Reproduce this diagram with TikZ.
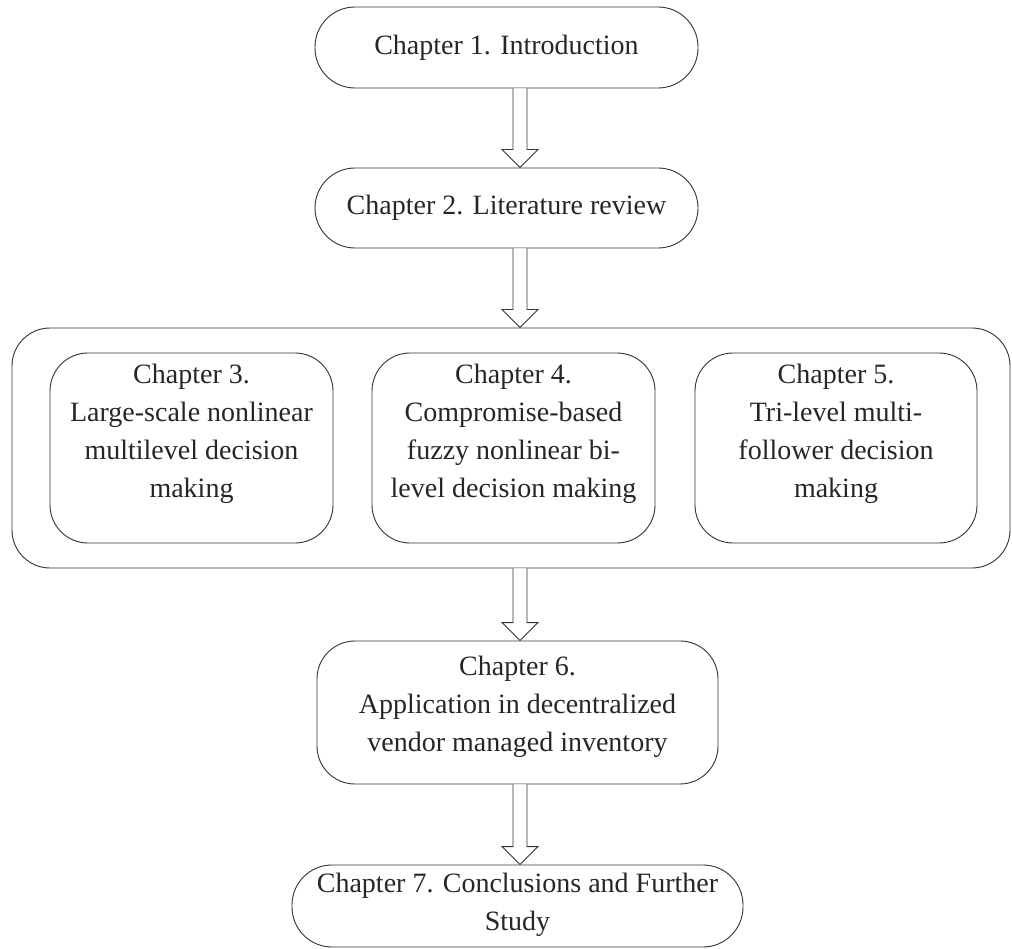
\documentclass[tikz,border=0pt]{standalone}
\usepackage{fontspec}
\setmainfont{Liberation Serif}
\usetikzlibrary{calc}
\tikzset{
  box/.style={draw=black!80, line width=0.9pt, rounded corners=38pt, align=center, inner sep=0pt,
    font=\fontsize{28}{38}\selectfont, text=black!85},
  txt/.style={align=center, inner sep=0pt, font=\fontsize{28}{38}\selectfont, text=black!85},
  hollow/.style={draw=black!80, line width=0.9pt, fill=white, line join=miter}
}
\newcommand\hollowarrow[2]{%
  \draw[hollow] let \p1=(#1), \p2=(#2) in
    (\x1-7pt,\y1) -- (\x1-7pt,\y2+18pt) -- (\x1-18pt,\y2+18pt) -- (\x1,\y2)
    -- (\x1+18pt,\y2+18pt) -- (\x1+7pt,\y2+18pt) -- (\x1+7pt,\y1);}
\begin{document}
\begin{tikzpicture}[x=1pt,y=-1pt]
\useasboundingbox (0,0) rectangle (1012,949);
\node[box, rounded corners=40pt, minimum width=383pt, minimum height=81pt] (c1) at (506.5,47.5) {Chapter 1. Introduction};
\node[box, rounded corners=40pt, minimum width=383pt, minimum height=80pt] (c2) at (506.5,208) {Chapter 2. Literature review};
\node[box, minimum width=998pt, minimum height=240pt] (grp) at (511,448) {};
\node[box, minimum width=283pt, minimum height=190pt,
  label={[txt, yshift=14pt]center:{Chapter 3.\\Large-scale nonlinear\\multilevel decision\\making}}] (c3) at (191.5,448) {};
\node[box, minimum width=283pt, minimum height=190pt,
  label={[txt, yshift=14pt]center:{Chapter 4.\\Compromise-based\\fuzzy nonlinear bi-\\level decision making}}] (c4) at (513.5,448) {};
\node[box, minimum width=282pt, minimum height=190pt,
  label={[txt, yshift=14pt]center:{Chapter 5.\\Tri-level multi-\\follower decision\\making}}] (c5) at (836,448) {};
\node[box, minimum width=401pt, minimum height=143pt,
  label={[txt, yshift=6pt]center:{Chapter 6.\\Application in decentralized\\vendor managed inventory}}] (c6) at (517.5,712.5) {};
\node[box, rounded corners=40pt, minimum width=451pt, minimum height=82pt,
  label={[txt, yshift=1pt]center:{Chapter 7. Conclusions and Further\\Study}}] (c7) at (517.5,906) {};
\coordinate (a1s) at ($(c1.south)+(13.5,0)$);
\coordinate (a1e) at ($(c2.north)+(13.5,0)$);
\coordinate (a2s) at ($(c2.south)+(13.5,0)$);
\coordinate (a2e) at ($(grp.north)+(9,0)$);
\coordinate (a3s) at ($(grp.south)+(9,0)$);
\coordinate (a3e) at ($(c6.north)+(2.5,0)$);
\coordinate (a4s) at ($(c6.south)+(2.5,0)$);
\coordinate (a4e) at ($(c7.north)+(2.5,0)$);
\hollowarrow{a1s}{a1e}
\hollowarrow{a2s}{a2e}
\hollowarrow{a3s}{a3e}
\hollowarrow{a4s}{a4e}
\end{tikzpicture}
\end{document}
